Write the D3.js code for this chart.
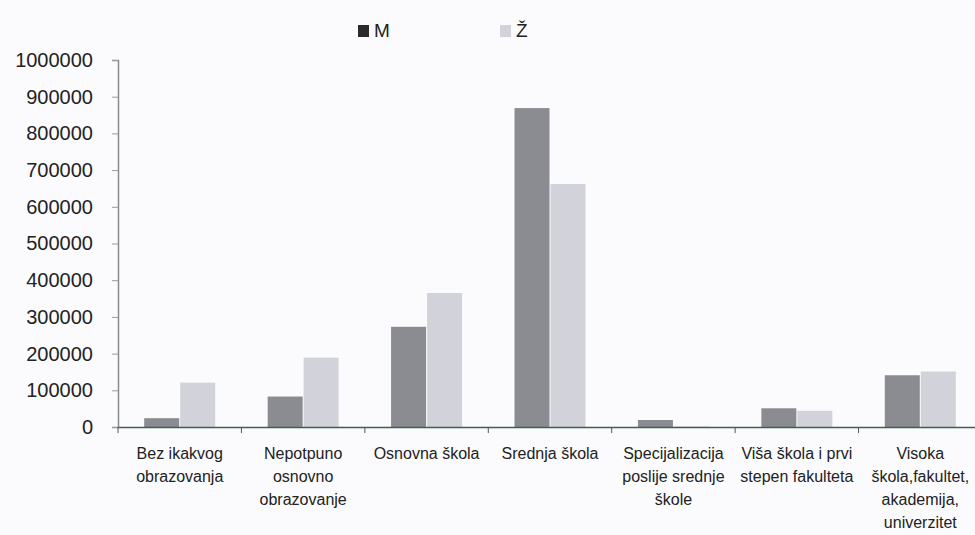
<!DOCTYPE html>
<html>
<head>
<meta charset="utf-8">
<script src="https://cdn.jsdelivr.net/npm/d3@7"></script>
<style>
  html, body { margin: 0; padding: 0; background: #fbfbfd; }
  svg { display: block; font-family: "Liberation Sans", Arial, sans-serif; }
</style>
</head>
<body>
<svg id="chart" width="975" height="535"></svg>
<script>
// Education level categories (each label split into lines)
const categories = [
  ["Bez ikakvog", "obrazovanja"],
  ["Nepotpuno", "osnovno", "obrazovanje"],
  ["Osnovna škola"],
  ["Srednja škola"],
  ["Specijalizacija", "poslije srednje", "škole"],
  ["Viša škola i prvi", "stepen fakulteta"],
  ["Visoka", "škola,fakultet,", "akademija,", "univerzitet"]
];
const seriesNames = ["M", "Ž"];
const valuesM = [24000, 83000, 273000, 869000, 19000, 51000, 141000];
const valuesZ = [121000, 189000, 365000, 662000, 1500, 44000, 151000];
const yTicks = [0, 100000, 200000, 300000, 400000, 500000, 600000, 700000, 800000, 900000, 1000000];
const colors = ["#8b8b92", "#d2d2da"];

const svg = d3.select("#chart");
const margin = { left: 118, right: -7, top: 60, bottom: 108 };
const W = 975, H = 535;

const x = d3.scaleBand()
  .domain(d3.range(categories.length))
  .range([margin.left, W - margin.right])
  .paddingInner(0).paddingOuter(0);

const y = d3.scaleLinear()
  .domain([0, 1000000])
  .range([H - margin.bottom, margin.top]);

const barW = 35, gap = 1;

// Y axis
const yAxis = svg.append("g")
  .attr("transform", `translate(${margin.left},0)`)
  .call(d3.axisLeft(y).tickValues(yTicks).tickSize(6).tickPadding(19).tickFormat(d3.format("d")));
yAxis.select(".domain").attr("stroke", "#8a8a8a").attr("stroke-width", 1.5);
yAxis.selectAll(".tick line").attr("stroke", "#9a9a9a");
yAxis.selectAll("text").attr("font-size", 20).attr("fill", "#222");

// Bars
const data = categories.map((c, i) => ({ i, vals: [valuesM[i], valuesZ[i]] }));
const groups = svg.append("g").selectAll("g").data(data).join("g");
groups.selectAll("rect")
  .data(d => d.vals.map((v, s) => ({ i: d.i, s, v })))
  .join("rect")
  .attr("x", d => x(d.i) + x.bandwidth() / 2 - barW - gap / 2 + d.s * (barW + gap))
  .attr("y", d => y(d.v))
  .attr("width", barW)
  .attr("height", d => y(0) - y(d.v))
  .attr("fill", d => colors[d.s]);

// X axis
const xAxis = svg.append("g")
  .attr("transform", `translate(0,${y(0)})`)
  .call(d3.axisBottom(x).tickSize(0).tickFormat(""));
xAxis.select(".domain").attr("stroke", "#3f5f52").attr("stroke-width", 1.5);
svg.append("g").selectAll("line")
  .data(d3.range(categories.length))
  .join("line")
  .attr("x1", i => x(i)).attr("x2", i => x(i))
  .attr("y1", y(0)).attr("y2", y(0) + 6)
  .attr("stroke", "#555");

// Category labels
const labels = svg.append("g").selectAll("text").data(categories).join("text")
  .attr("text-anchor", "middle")
  .attr("font-size", 16)
  .attr("fill", "#222")
  .attr("transform", (d, i) => `translate(${x(i) + x.bandwidth() / 2},${y(0) + 32})`);
labels.selectAll("tspan").data(d => d).join("tspan")
  .attr("x", 0)
  .attr("dy", (d, j) => j === 0 ? 0 : 23)
  .text(d => d);

// Legend
const legendX = [358, 500];
const legend = svg.append("g").selectAll("g").data(seriesNames).join("g")
  .attr("transform", (d, i) => `translate(${legendX[i]},25)`);
legend.append("rect").attr("width", 11).attr("height", 12).attr("fill", (d, i) => i === 0 ? "#2a2a2a" : colors[1]);
legend.append("text").attr("x", 16).attr("y", 12).attr("font-size", 19).attr("fill", "#222").text(d => d);
</script>
</body>
</html>
